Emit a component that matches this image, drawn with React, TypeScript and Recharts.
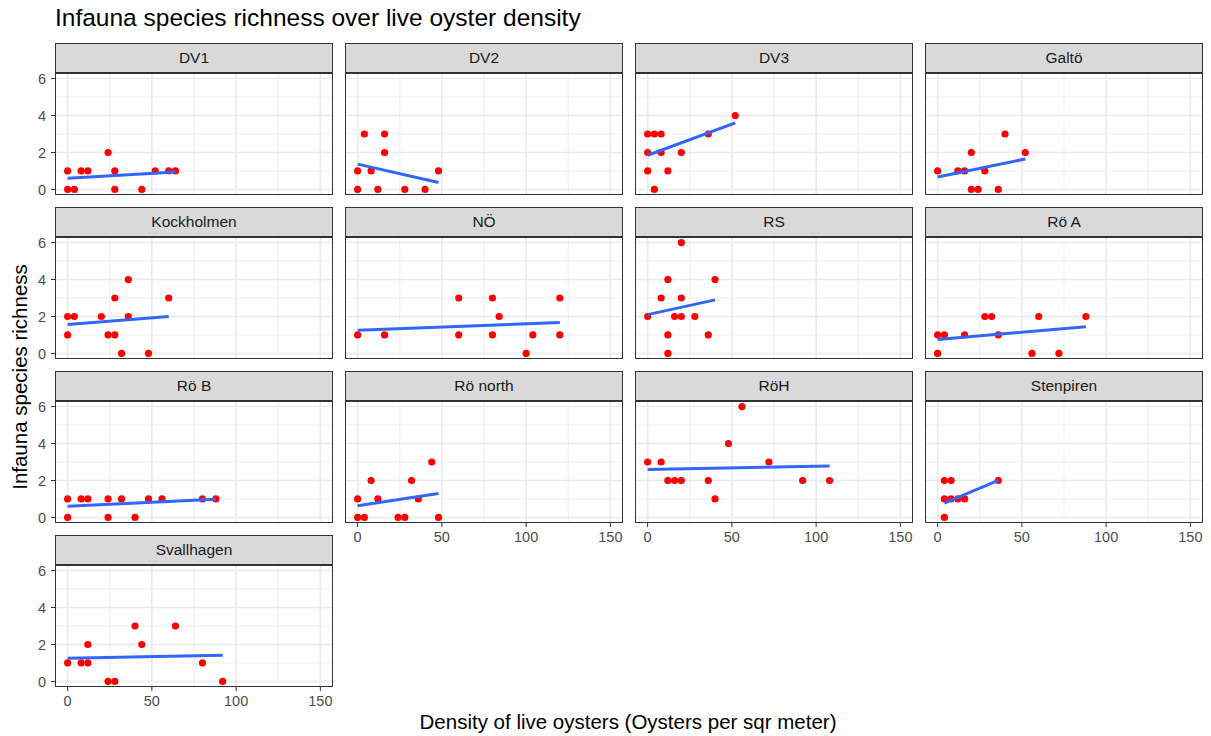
import React from 'react';
import { ComposedChart, Scatter, XAxis, YAxis, ReferenceLine } from 'recharts';

// density of live oysters (x) and infauna species richness (y), per site
const dv1Density = [0, 0, 4, 8, 12, 24, 28, 28, 44, 52, 60, 64];
const dv1Richness = [1, 0, 0, 1, 1, 2, 1, 0, 0, 1, 1, 1];
const dv2Density = [0, 0, 4, 8, 12, 16, 16, 28, 40, 48];
const dv2Richness = [1, 0, 3, 1, 0, 3, 2, 0, 0, 1];
const dv3Density = [0, 0, 0, 4, 4, 8, 8, 12, 20, 36, 52];
const dv3Richness = [3, 2, 1, 3, 0, 3, 2, 1, 2, 3, 4];
const galtoDensity = [0, 12, 16, 20, 20, 24, 28, 36, 40, 52];
const galtoRichness = [1, 1, 1, 2, 0, 0, 1, 0, 3, 2];
const kockDensity = [0, 0, 4, 20, 24, 28, 28, 32, 36, 36, 48, 60];
const kockRichness = [2, 1, 2, 2, 1, 3, 1, 0, 2, 4, 0, 3];
const noDensity = [0, 16, 60, 60, 80, 80, 84, 100, 104, 120, 120];
const noRichness = [1, 1, 3, 1, 3, 1, 2, 0, 1, 3, 1];
const rsDensity = [0, 8, 12, 12, 12, 16, 20, 20, 20, 28, 36, 40];
const rsRichness = [2, 3, 4, 1, 0, 2, 6, 3, 2, 2, 1, 4];
const roADensity = [0, 0, 4, 16, 28, 32, 36, 56, 60, 72, 88];
const roARichness = [1, 0, 1, 1, 2, 2, 1, 0, 2, 0, 2];
const roBDensity = [0, 0, 8, 12, 24, 24, 32, 40, 48, 56, 80, 88];
const roBRichness = [1, 0, 1, 1, 1, 0, 1, 0, 1, 1, 1, 1];
const roNorthDensity = [0, 0, 4, 8, 12, 24, 28, 32, 36, 44, 48];
const roNorthRichness = [1, 0, 0, 2, 1, 0, 0, 2, 1, 3, 0];
const roHDensity = [0, 8, 12, 16, 20, 36, 40, 48, 56, 72, 92, 108];
const roHRichness = [3, 3, 2, 2, 2, 2, 1, 4, 6, 3, 2, 2];
const stenDensity = [4, 4, 4, 8, 8, 12, 16, 36];
const stenRichness = [2, 1, 0, 2, 1, 1, 1, 2];
const svallDensity = [0, 8, 12, 12, 24, 28, 40, 44, 64, 80, 92];
const svallRichness = [1, 1, 2, 1, 0, 0, 3, 2, 3, 1, 0];

// linear fit end points: [x0, y0, x1, y1]
const dv1Fit = [0, 0.6, 64, 0.95];
const dv2Fit = [0, 1.37, 48, 0.38];
const dv3Fit = [0, 1.85, 52, 3.6];
const galtoFit = [0, 0.67, 52, 1.65];
const kockFit = [0, 1.57, 60, 2.0];
const noFit = [0, 1.25, 120, 1.67];
const rsFit = [0, 2.1, 40, 2.9];
const roAFit = [0, 0.75, 88, 1.45];
const roBFit = [0, 0.6, 88, 0.98];
const roNorthFit = [0, 0.63, 48, 1.3];
const roHFit = [0, 2.6, 108, 2.78];
const stenFit = [4, 0.78, 36, 2.0];
const svallFit = [0, 1.25, 92, 1.42];

const siteNames = ['DV1', 'DV2', 'DV3', 'Galtö', 'Kockholmen', 'NÖ', 'RS', 'Rö A', 'Rö B', 'Rö north', 'RöH', 'Stenpiren', 'Svallhagen'];
const siteDensity = [dv1Density, dv2Density, dv3Density, galtoDensity, kockDensity, noDensity, rsDensity, roADensity, roBDensity, roNorthDensity, roHDensity, stenDensity, svallDensity];
const siteRichness = [dv1Richness, dv2Richness, dv3Richness, galtoRichness, kockRichness, noRichness, rsRichness, roARichness, roBRichness, roNorthRichness, roHRichness, stenRichness, svallRichness];
const siteFit = [dv1Fit, dv2Fit, dv3Fit, galtoFit, kockFit, noFit, rsFit, roAFit, roBFit, roNorthFit, roHFit, stenFit, svallFit];

const xTicks = [0, 50, 100, 150];
const xMinor = [25, 75, 125];
const yTicks = [0, 2, 4, 6];
const yMinor = [1, 3, 5];

const FONT = '"Liberation Sans", Arial, sans-serif';
const COL_LEFT = [55, 345, 635, 925];
const ROW_TOP = [43, 207, 371, 535];
const W = 278;
const H = 122;
const STRIP = 30;
const YW = 26;
const XH = 24;
const PAD = 9;

const Dot = (props: any) => <circle cx={props.cx} cy={props.cy} r={3.6} fill="#FF0000" />;

interface PanelProps {
  idx: number;
  showX: boolean;
  showY: boolean;
}

const Panel = ({ idx, showX, showY }: PanelProps) => {
  const col = idx % 4;
  const row = Math.floor(idx / 4);
  const left = COL_LEFT[col];
  const top = ROW_TOP[row];
  const pts = siteDensity[idx].map((x, i) => ({ x, y: siteRichness[idx][i] }));
  const fit = siteFit[idx];
  const padL = showY ? YW : 0;
  const padB = showX ? 0 : PAD;

  return (
    <>
      <div
        style={{
          position: 'absolute', left, top, width: W, height: STRIP, boxSizing: 'border-box',
          border: '1px solid #333', background: '#D9D9D9', color: '#1A1A1A', fontSize: 15.5,
          display: 'flex', alignItems: 'center', justifyContent: 'center',
        }}
      >
        {siteNames[idx]}
      </div>
      <div style={{ position: 'absolute', left: left - padL, top: top + STRIP - PAD }}>
        <ComposedChart
          width={W + padL + PAD}
          height={PAD + H + (showX ? XH : PAD)}
          margin={{ top: PAD, right: PAD, bottom: padB, left: 0 }}
        >
          <XAxis
            type="number" dataKey="x" domain={[-7.5, 157.5]} ticks={xTicks} interval={0} hide={!showX}
            height={XH} axisLine={false} tickSize={4} tickMargin={5} tickLine={{ stroke: '#333' }}
            tick={{ fill: '#4D4D4D', fontSize: 14.5 }} allowDataOverflow
          />
          <YAxis
            type="number" dataKey="y" domain={[-0.3, 6.3]} ticks={yTicks} interval={0} hide={!showY}
            width={YW} axisLine={false} tickSize={4} tickMargin={5} tickLine={{ stroke: '#333' }}
            tick={{ fill: '#4D4D4D', fontSize: 14.5 }} allowDataOverflow
          />
          {xMinor.map((v) => <ReferenceLine key={'xm' + v} x={v} stroke="#EBEBEB" strokeWidth={0.8} zIndex={-100} />)}
          {yMinor.map((v) => <ReferenceLine key={'ym' + v} y={v} stroke="#EBEBEB" strokeWidth={0.8} zIndex={-100} />)}
          {xTicks.map((v) => <ReferenceLine key={'xM' + v} x={v} stroke="#EBEBEB" strokeWidth={1.6} zIndex={-100} />)}
          {yTicks.map((v) => <ReferenceLine key={'yM' + v} y={v} stroke="#EBEBEB" strokeWidth={1.6} zIndex={-100} />)}
          <Scatter data={pts} dataKey="y" shape={Dot} isAnimationActive={false} />
          <ReferenceLine
            segment={[{ x: fit[0], y: fit[1] }, { x: fit[2], y: fit[3] }]}
            stroke="#3366FF" strokeWidth={3} zIndex={1000}
          />
        </ComposedChart>
      </div>
      <div
        style={{
          position: 'absolute', left, top: top + STRIP, width: W, height: H,
          boxSizing: 'border-box', border: '1px solid #333', pointerEvents: 'none',
        }}
      />
    </>
  );
};

export default function App() {
  return (
    <div style={{ position: 'absolute', left: 0, top: 0, width: 1211, height: 736, background: '#fff', fontFamily: FONT, overflow: 'hidden' }}>
      <div style={{ position: 'absolute', left: 55, top: 4, fontSize: 24.5, color: '#000', whiteSpace: 'nowrap' }}>
        Infauna species richness over live oyster density
      </div>
      {siteNames.map((_, i) => (
        <Panel key={i} idx={i} showY={i % 4 === 0} showX={i >= 9} />
      ))}
      <div
        style={{
          position: 'absolute', left: 20, top: 377, transform: 'translate(-50%, -50%) rotate(-90deg)',
          fontSize: 20.5, color: '#000', whiteSpace: 'nowrap',
        }}
      >
        Infauna species richness
      </div>
      <div
        style={{
          position: 'absolute', left: 628, top: 722, transform: 'translate(-50%, -50%)',
          fontSize: 20.5, color: '#000', whiteSpace: 'nowrap',
        }}
      >
        Density of live oysters (Oysters per sqr meter)
      </div>
    </div>
  );
}
